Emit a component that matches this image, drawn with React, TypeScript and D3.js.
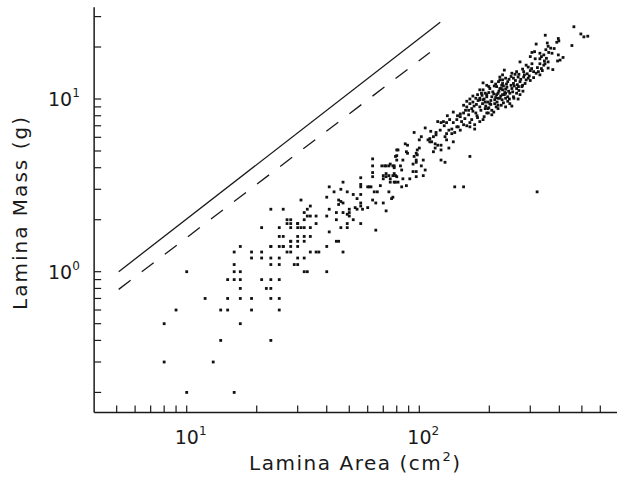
import React from 'react';
import * as d3 from 'd3';

// ---------- data ----------
const xMajorTicks = [10, 100];
const xMajorExps = ['1', '2'];
const xMinorTicks = [5, 6, 7, 8, 9, 20, 30, 40, 50, 60, 70, 80, 90, 200, 300, 400, 500, 600];
const yMajorTicks = [1, 10];
const yMajorExps = ['0', '1'];
const yMinorTicks = [0.2, 0.3, 0.4, 0.5, 0.6, 0.7, 0.8, 0.9, 2, 3, 4, 5, 6, 7, 8, 9, 20, 30];
const xAxisExtent = [4, 710];
const yAxisExtent = [0.153, 34];
const xTitle = 'Lamina Area (cm';
const xTitleExp = '2';
const yTitle = 'Lamina Mass (g)';

// reference lines [area, mass]
const solidLine = [[5.1, 1.0], [123, 27.8]];
const dashedLine = [[5.1, 0.79], [111, 18.6]];

// scatter points [area cm2, mass g]
const sparsePoints = [
  [21, 1.8], [25, 1.8], [27, 1.9], [28, 1.9], [30, 1.9], [28, 1.8], [30, 1.8],
  [25, 1.6], [26, 1.6], [30, 1.6],
  [17, 1.4], [23, 1.4], [25, 1.4], [26, 1.4], [28, 1.5], [28, 1.4], [30, 1.4],
  [16, 1.3], [19, 1.3], [21, 1.3], [27, 1.3], [28, 1.3],
  [19, 1.2], [21, 1.2], [23, 1.2], [25, 1.2],
  [16, 1.1], [23, 1.1], [25, 1.1], [29, 1.1], [30, 1.1],
  [10, 1.0], [16, 1.0], [17, 1.0],
  [15, 0.9], [16, 0.9], [17, 0.9], [21, 0.9], [23, 0.9], [25, 0.9],
  [17, 0.8], [22, 0.8], [23, 0.8],
  [12, 0.7], [15, 0.7], [17, 0.7], [19, 0.7], [23, 0.7], [25, 0.7],
  [9, 0.6], [14, 0.6], [15, 0.6], [19, 0.6], [25, 0.6],
  [8, 0.5], [17, 0.5],
  [14, 0.4], [23, 0.4],
  [8, 0.3], [13, 0.3],
  [10, 0.2], [16, 0.2],
];

const midPoints = [
  [63, 4.5], [80, 5.07], [80, 4.7],
  [63, 4.1], [63, 3.75], [63, 3.55],
  [69, 4.1], [71, 4.1], [74, 4.1], [77, 4.1], [78, 4.0],
  [72, 3.7], [74, 3.6], [77, 3.6], [79, 3.6],
  [70, 3.45], [75, 3.45], [78, 3.3], [81, 3.3],
  [56, 3.5], [56, 3.2], [56, 3.1], [60, 3.1], [61, 3.1], [62, 3.1],
  [64, 2.9], [66, 2.9], [63, 2.6], [65, 2.5], [70, 2.5], [72, 2.25], [74, 2.9], [76, 2.65],
  [65, 1.74],
  [47, 3.3], [41, 3.1], [43, 2.9], [46, 3.0], [49, 2.9], [40, 2.7],
  [45, 2.6], [46, 2.55], [47, 2.5], [45, 2.45],
  [52, 2.8], [54, 2.65], [56, 2.8], [56, 2.5], [56, 2.4],
  [50, 2.3], [50, 2.2], [50, 2.1],
  [53, 2.35], [54, 2.3], [57, 2.3], [60, 2.35],
  [41, 2.3], [44, 2.2], [47, 2.2], [49, 2.15], [40, 2.1],
  [44, 2.0], [49, 1.9], [52, 2.0], [56, 1.9],
  [46, 1.8], [49, 1.8], [41, 1.7],
  [44, 1.5], [45, 1.5], [40, 1.4], [47, 1.3], [40, 1.0],
  [31, 2.6], [34, 2.4], [33, 2.3], [32, 2.2],
  [26, 2.3], [23, 2.3],
  [33, 2.1], [34, 2.1], [36, 2.1],
  [27, 2.0], [28, 2.0], [30, 1.9], [32, 2.0], [36, 1.9],
  [31, 1.8], [32, 1.8], [34, 1.8],
  [32, 1.6], [34, 1.6],
  [28, 1.5], [30, 1.5], [32, 1.5],
  [23, 1.4], [26, 1.4],
  [34, 1.3], [36, 1.3], [37, 1.3],
  [30, 1.2], [32, 1.2],
  [32, 1.0], [33, 1.0],
];

const upperPoints = [
  [232, 14.7], [222, 13.4], [228, 12.9], [235, 13.2],
  [215, 11.8], [222, 11.5], [228, 11.3], [235, 11.4],
  [201, 11.5], [207, 11.0], [182, 11.3], [185, 10.8], [192, 10.8],
  [195, 10.3], [205, 10.3], [215, 10.6],
  [175, 10.1], [182, 9.9], [192, 9.6], [201, 9.4], [211, 9.9], [218, 10.1],
  [235, 10.8], [240, 10.3], [218, 9.2], [197, 8.8], [182, 9.0],
  [165, 9.4], [170, 9.6], [160, 9.0], [163, 8.6], [168, 8.8],
  [155, 8.3], [163, 8.1], [175, 8.3], [150, 7.9], [157, 7.7],
  [145, 7.6], [152, 7.4], [165, 7.3], [173, 7.1], [182, 7.4], [188, 7.6],
  [140, 7.3], [135, 7.6], [147, 6.9], [155, 7.1], [131, 7.3], [127, 7.4],
  [120, 7.4], [124, 7.3], [138, 6.7], [134, 6.6], [142, 6.4],
  [165, 6.9], [173, 6.7], [168, 7.6], [118, 6.4], [123, 6.6],
  [131, 6.3], [129, 6.05], [138, 6.3], [95, 6.4], [102, 6.05], [100, 5.8],
  [111, 5.9], [115, 6.05], [118, 6.2], [109, 5.8], [111, 5.65],
  [113, 5.65], [117, 5.5], [120, 5.4], [131, 5.8], [140, 5.65],
  [124, 5.4], [124, 5.07], [117, 5.2], [115, 4.95], [134, 5.2],
  [87, 5.5], [89, 5.4], [81, 5.07], [88, 4.95], [89, 4.85],
  [98, 5.07], [100, 5.2], [97, 4.85], [98, 4.75], [95, 4.65], [97, 4.43],
  [94, 4.2], [97, 4.3], [79, 4.65], [80, 4.43], [85, 4.43],
  [124, 4.43], [129, 4.3], [104, 4.43], [102, 4.1], [165, 4.65],
  [72, 4.1], [75, 4.2], [78, 4.1], [83, 4.1], [84, 3.88],
  [94, 3.8], [97, 3.8], [106, 3.88], [104, 3.6],
  [70, 3.6], [72, 3.55], [78, 3.7], [80, 3.55], [85, 3.45],
  [91, 3.45], [97, 3.55], [75, 3.3], [79, 3.3], [84, 3.1], [88, 3.15],
  [68, 3.15], [142, 3.1], [155, 3.1], [77, 2.7],
];

const densePoints = [
  [462, 26.2], [495, 23.8], [510, 22.9], [530, 23.1], [453, 20.4], [348, 23.4],
  [396, 22.4], [390, 21.3], [398, 21.7], [355, 21.1], [358, 20.2], [318, 20.8],
  [367, 19.7], [372, 18.4], [305, 18.6], [313, 18.8],
  [330, 18.4], [335, 17.6], [343, 18.0],
  [396, 18.0], [415, 17.4], [403, 16.8], [393, 16.6],
  [352, 17.2], [358, 16.4], [347, 16.0], [330, 16.0], [343, 15.7], [335, 15.0],
  [358, 15.1], [375, 14.8], [271, 16.4],
  [294, 15.3], [304, 15.0], [310, 14.4], [325, 14.4], [330, 13.8],
  [228, 13.8], [250, 14.1], [262, 14.4], [281, 14.4],
  [254, 13.2], [266, 13.4], [281, 13.4], [294, 13.2],
  [240, 12.6], [254, 12.3], [271, 12.6], [285, 12.3], [222, 12.9], [228, 12.3],
  [225, 11.5], [250, 11.5], [262, 11.5], [276, 11.8],
  [218, 10.8], [232, 10.6], [245, 10.8], [262, 10.8],
  [195, 10.6], [222, 10.1], [235, 10.1], [254, 10.3], [271, 10.6],
  [188, 9.9], [197, 9.6], [211, 9.4], [225, 9.2], [245, 9.4],
  [192, 8.8], [205, 8.6], [218, 8.8], [235, 9.0], [250, 9.1],
  [195, 8.3], [205, 8.1], [188, 11.3], [182, 10.1], [321, 2.9],
  [186, 10.5], [190, 10.0], [199, 10.9], [203, 9.8], [209, 10.7], [213, 10.2],
  [216, 9.6], [220, 11.1], [224, 10.4], [227, 9.9], [230, 11.9], [233, 10.9],
  [238, 11.7], [242, 11.1], [244, 10.0], [248, 12.0], [252, 11.0], [256, 11.9],
  [259, 12.8], [264, 12.1], [268, 11.2], [273, 13.0], [278, 12.0], [283, 13.8],
  [288, 12.9], [291, 14.0], [297, 13.6], [300, 14.6], [213, 12.2], [219, 12.6],
  [226, 12.0], [243, 13.0], [237, 12.2], [248, 13.5], [258, 13.9], [199, 11.8],
  [210, 11.9], [176, 9.3], [179, 9.8], [184, 8.6], [187, 9.4], [193, 9.1],
  [199, 8.9], [203, 9.3], [209, 8.4], [214, 9.0], [170, 8.5], [172, 9.1],
  [177, 8.0], [158, 8.6], [150, 8.2], [146, 8.0], [228, 10.6], [240, 9.7],
  [255, 10.1], [266, 10.0], [279, 11.1], [230, 9.5], [267, 11.8], [300, 12.8],
  [310, 13.3], [318, 14.1], [322, 15.2], [338, 14.6], [345, 16.6], [305, 16.0],
  [288, 15.7], [278, 14.9], [268, 13.9], [315, 17.1], [360, 18.6], [380, 19.6],
  [350, 19.3], [330, 17.1], [300, 17.6], [205, 12.6], [195, 12.0], [188, 12.4],
  [178, 10.6], [170, 10.4], [165, 10.0], [160, 9.7], [155, 9.2], [140, 8.4],
  [132, 8.0], [128, 7.0], [112, 6.5], [106, 6.8], [145, 6.9], [150, 6.6],
  [160, 7.0], [178, 7.8], [190, 7.9], [198, 8.3],
];

// ---------- layout ----------
const W = 617;
const H = 480;
const FONT = "'DejaVu Sans', 'Liberation Sans', sans-serif";
const INK = '#1a1a1a';

export default function App() {
  const x = d3.scaleLog().domain([10, 100]).range([186.7, 419.3]);
  const y = d3.scaleLog().domain([1, 10]).range([271.7, 99]);
  const x0 = x(xAxisExtent[0]);
  const x1 = x(xAxisExtent[1]);
  const yBottom = y(yAxisExtent[0]);
  const yTop = y(yAxisExtent[1]);
  const tickLen = 7;

  const line = d3
    .line<number[]>()
    .x((d) => x(d[0]))
    .y((d) => y(d[1]));

  const allPoints = [...sparsePoints, ...midPoints, ...upperPoints, ...densePoints];
  const ps = 2.8;

  return (
    <svg
      width={W}
      height={H}
      viewBox={`0 0 ${W} ${H}`}
      style={{ position: 'absolute', left: 0, top: 0, background: '#fff', display: 'block' }}
    >
      <rect x={0} y={0} width={W} height={H} fill="#fff" />
      {/* axes */}
      <g stroke={INK} strokeWidth={1.5} fill="none">
        <line x1={x0} y1={yTop} x2={x0} y2={yBottom} />
        <line x1={x0} y1={yBottom} x2={x1} y2={yBottom} />
        {[...xMajorTicks, ...xMinorTicks].map((t) => (
          <line key={'xt' + t} x1={x(t)} x2={x(t)} y1={yBottom} y2={yBottom - tickLen} strokeWidth={1.2} />
        ))}
        {[...yMajorTicks, ...yMinorTicks].map((t) => (
          <line key={'yt' + t} x1={x0} x2={x0 + tickLen} y1={y(t)} y2={y(t)} strokeWidth={1.2} />
        ))}
      </g>
      {/* tick labels */}
      <g fill={INK} fontFamily={FONT}>
        {xMajorTicks.map((t, i) => (
          <text key={'xl' + t} x={x(t) - 12} y={yBottom + 31} fontSize={19}>
            10
            <tspan fontSize={12} dy={-9}>
              {xMajorExps[i]}
            </tspan>
          </text>
        ))}
        {yMajorTicks.map((t, i) => (
          <text key={'yl' + t} x={48} y={y(t) + 7} fontSize={19}>
            10
            <tspan fontSize={12} dy={-9}>
              {yMajorExps[i]}
            </tspan>
          </text>
        ))}
      </g>
      {/* titles */}
      <g fill={INK} fontFamily={FONT}>
        <text x={249} y={470} fontSize={20} textLength={211} lengthAdjust="spacing">
          {xTitle}
          <tspan fontSize={13} dy={-9}>
            {xTitleExp}
          </tspan>
          <tspan dy={9}>)</tspan>
        </text>
        <text
          transform={`translate(27, 310) rotate(-90)`}
          x={0}
          y={0}
          fontSize={20}
          textLength={193}
          lengthAdjust="spacing"
        >
          {yTitle}
        </text>
      </g>
      {/* reference lines */}
      <path d={line(solidLine) || ''} stroke={INK} strokeWidth={1.3} fill="none" />
      <path d={line(dashedLine) || ''} stroke={INK} strokeWidth={1.3} fill="none" strokeDasharray="15 14" />
      {/* points */}
      <g fill="#111">
        {allPoints.map((p, i) => (
          <rect key={i} x={x(p[0]) - ps / 2} y={y(p[1]) - ps / 2} width={ps} height={ps} />
        ))}
      </g>
    </svg>
  );
}
